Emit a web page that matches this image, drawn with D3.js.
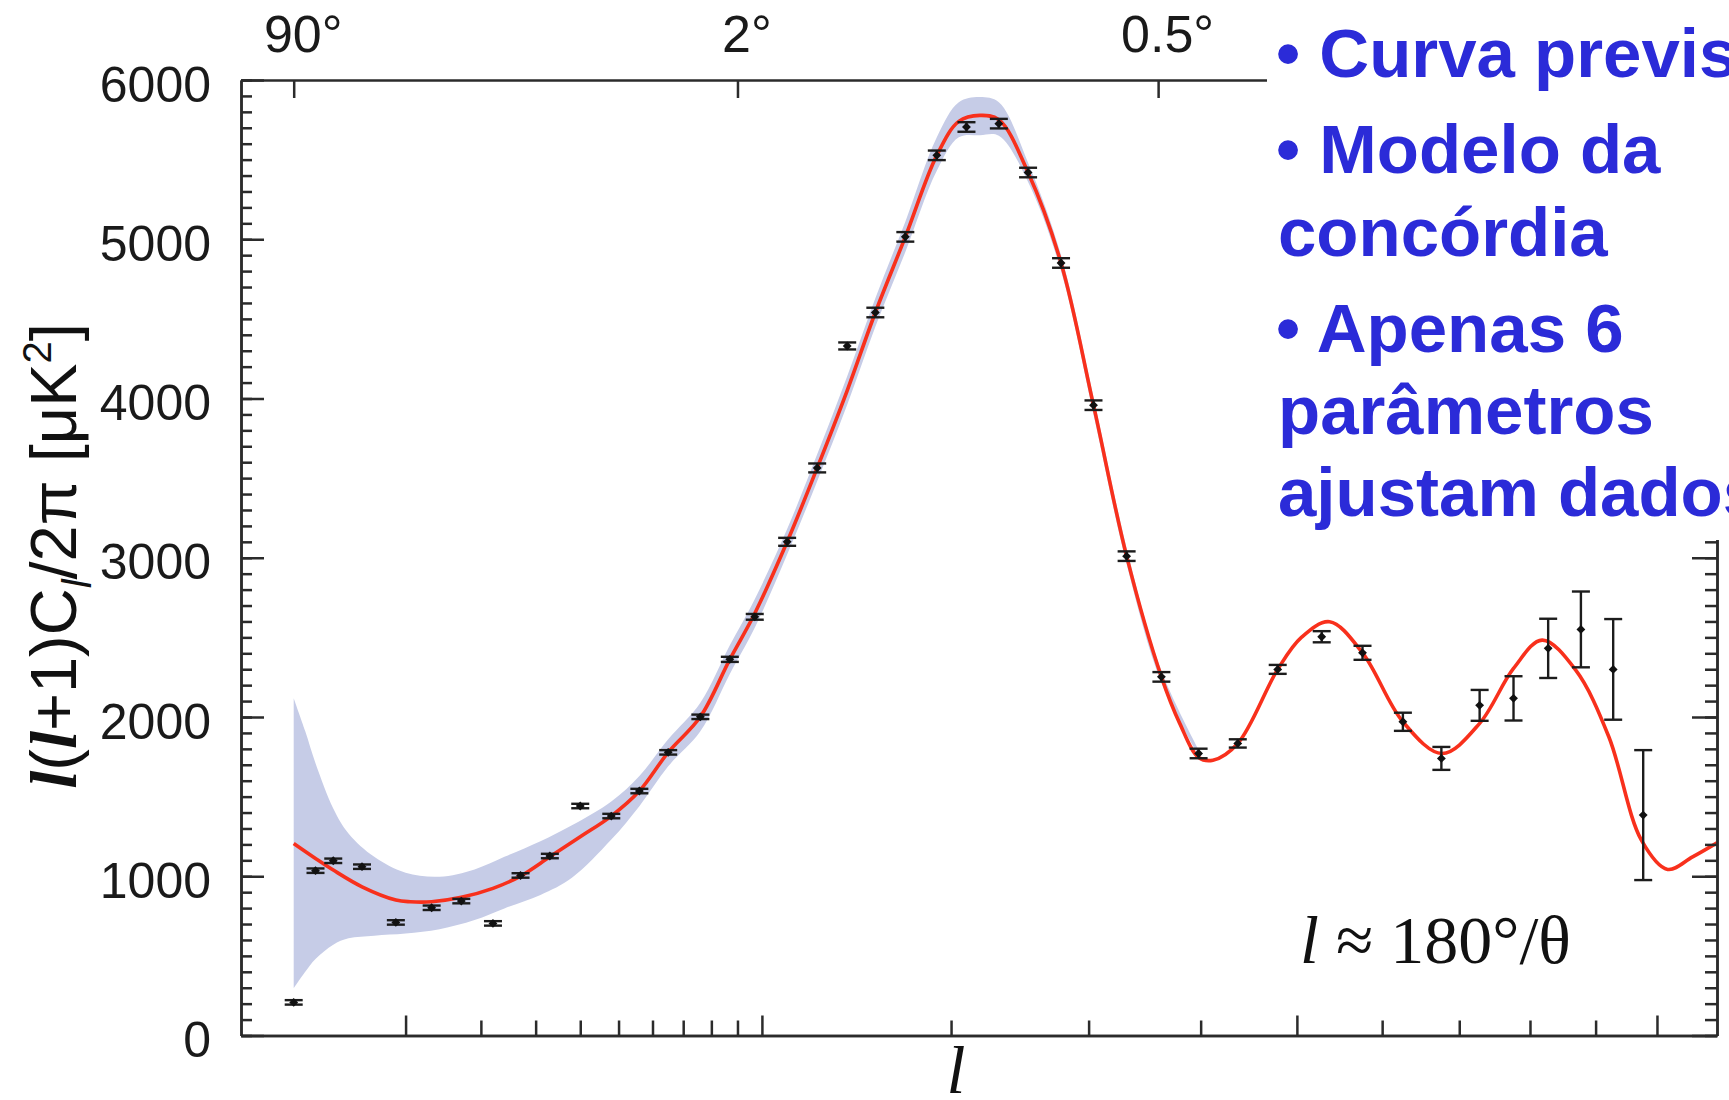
<!DOCTYPE html>
<html>
<head>
<meta charset="utf-8">
<script src="https://cdn.jsdelivr.net/npm/d3@7"></script>
<style>
  body { margin: 0; background: #fff; }
  svg { display: block; }
  .axis path, .axis line { stroke: #2b2b2b; stroke-width: 2.5px; }
  .axis text { font-family: "Liberation Sans", Arial, sans-serif; font-size: 50px; fill: #1a1a1a; }
  .note { font-family: "Liberation Sans", Arial, sans-serif; font-weight: bold; font-size: 69px; fill: #2b2bd8; }
  .serif { font-family: "Liberation Serif", "Times New Roman", serif; fill: #111; }
</style>
</head>
<body>
<svg id="chart" width="1729" height="1100"></svg>
<script>
// measured band powers (multipole, D_l in uK^2, error)
const obsL   = [2, 3, 4, 6, 9, 13, 17, 22, 27, 33, 40, 48, 56, 65, 76, 87, 97,
                111, 125, 140, 155, 172, 191, 210, 232, 253, 278, 304, 332,
                363, 398, 437, 479, 528, 576, 626, 676, 728, 776, 827, 877, 928, 977];
const obsD   = [208, 1035, 1097, 1060, 710, 802, 844, 704, 1005, 1127, 1441, 1378, 1535, 1778, 2001, 2362, 2629,
                3100, 3564, 4330, 4540, 5015, 5527, 5705, 5726, 5419, 4851, 3958, 3010,
                2252, 1771, 1834, 2299, 2504, 2403, 1970, 1740, 2073, 2117, 2431, 2550, 2299, 1384];
const obsErr = [14, 14, 14, 14, 14, 14, 14, 14, 14, 14, 14, 14, 14, 14, 14, 16, 18,
                25, 28, 22, 30, 30, 30, 30, 30, 30, 30, 30, 30,
                30, 30, 26, 28, 35, 44, 57, 72, 97, 139, 186, 238, 316, 408];

// best-fit model curve
const modelL = [2, 3, 4, 6, 9, 10.5, 13, 17, 22, 27, 33, 40, 48, 56, 65, 76, 87, 97,
                111, 125, 140, 155, 172, 191, 205, 219, 232, 253, 278, 304, 332, 363, 380, 398, 412,
                437, 479, 505, 537, 576, 626, 677, 728, 776, 818, 869, 921, 974, 1018, 1061, 1104];
const modelD = [1206, 1112, 1039, 934, 851, 840, 840, 868, 924, 1001, 1122, 1248, 1378, 1535, 1778, 2001, 2362, 2650,
                3100, 3564, 4050, 4540, 5015, 5527, 5740, 5778, 5751, 5419, 4851, 3958, 3010, 2252, 1960, 1746, 1729,
                1834, 2299, 2500, 2598, 2403, 1970, 1771, 1960, 2305, 2483, 2294, 1876, 1227, 1043, 1122, 1210];

// cosmic variance band
const bandL  = [2, 2.5, 3, 4, 5, 7, 10, 14, 19, 24, 31, 38, 48, 56, 65, 76, 87, 97,
                111, 125, 140, 155, 172, 191, 205, 219, 232, 253, 278, 304, 332, 363, 400];
const bandHi = [2117, 1910, 1710, 1426, 1269, 1122, 1022, 997, 1043, 1122, 1220, 1320, 1470, 1630, 1860, 2090, 2450, 2740,
                3180, 3650, 4140, 4630, 5110, 5640, 5860, 5893, 5860, 5480, 4900, 4010, 3060, 2290, 1770];
const bandLo = [296, 400, 480, 570, 610, 627, 640, 667, 725, 798, 882, 990, 1230, 1440, 1690, 1910, 2270, 2560,
                3020, 3480, 3960, 4450, 4920, 5430, 5640, 5653, 5650, 5360, 4800, 3900, 2960, 2215, 1735];

// ticks
const yMajor = [0, 1000, 2000, 3000, 4000, 5000, 6000];
const yMinor = d3.range(0, 6001, 100);
const xMajor = [10, 100, 500, 1000];
const xMinor = [20, 30, 40, 50, 60, 70, 80, 90, 200, 300, 400, 600, 700, 800, 900];
const topTicks = [2, 90, 360];
const topLabels = ['90°', '2°', '0.5°'];

// side notes
const noteLines = ['• Curva prevista', '• Modelo da', 'concórdia', '• Apenas 6', 'parâmetros', 'ajustam dados'];
const noteY = [77, 173, 256, 352, 434, 516];

const mLeft = 241, mRight = 1717, mTop = 80, mBottom = 1035.5;
const svg = d3.select('#chart');

const x = d3.scalePow().exponent(0.4).domain([0.5, 1104]).range([mLeft, mRight]);
const y = d3.scaleLinear().domain([0, 6000]).range([mBottom, mTop]);

svg.append('rect').attr('width', 1729).attr('height', 1100).attr('fill', '#fff');

svg.append('defs').append('clipPath').attr('id', 'plot')
  .append('rect').attr('x', mLeft).attr('y', mTop).attr('width', mRight - mLeft).attr('height', mBottom - mTop);

// band
const area = d3.area()
  .x(d => x(d[0])).y0(d => y(d[1])).y1(d => y(d[2]))
  .curve(d3.curveCatmullRom);
svg.append('path')
  .datum(bandL.map((l, i) => [l, bandLo[i], bandHi[i]]))
  .attr('d', area)
  .attr('fill', '#c6cce7')
  .attr('clip-path', 'url(#plot)');

// model
const line = d3.line().x(d => x(d[0])).y(d => y(d[1])).curve(d3.curveCatmullRom);
svg.append('path')
  .datum(modelL.map((l, i) => [l, modelD[i]]))
  .attr('d', line)
  .attr('fill', 'none')
  .attr('stroke', '#f8301c')
  .attr('stroke-width', 3.6)
  .attr('clip-path', 'url(#plot)');

// data points with error bars
const pts = obsL.map((l, i) => ({ l: l, d: obsD[i], e: obsErr[i] }));
const g = svg.append('g').attr('stroke', '#1c1c1c').attr('stroke-width', 2.4);
const eb = g.selectAll('g.pt').data(pts).enter().append('g').attr('class', 'pt');
eb.append('line')
  .attr('x1', d => x(d.l)).attr('x2', d => x(d.l))
  .attr('y1', d => y(d.d - d.e)).attr('y2', d => y(d.d + d.e));
eb.append('line')
  .attr('x1', d => x(d.l) - 9).attr('x2', d => x(d.l) + 9)
  .attr('y1', d => y(d.d - d.e)).attr('y2', d => y(d.d - d.e));
eb.append('line')
  .attr('x1', d => x(d.l) - 9).attr('x2', d => x(d.l) + 9)
  .attr('y1', d => y(d.d + d.e)).attr('y2', d => y(d.d + d.e));
eb.append('path')
  .attr('d', d3.symbol(d3.symbolDiamond2, 50))
  .attr('transform', d => `translate(${x(d.l)},${y(d.d)})`)
  .attr('fill', '#111').attr('stroke', 'none');

// axes
svg.append('g').attr('class', 'axis').attr('transform', `translate(${mLeft},0)`)
  .call(d3.axisLeft(y).tickValues(yMinor).tickSize(-11).tickSizeOuter(0).tickFormat(''));
svg.append('g').attr('class', 'axis').attr('transform', `translate(${mLeft},0)`)
  .call(d3.axisLeft(y).tickValues(yMajor).tickSize(-23).tickSizeOuter(0).tickPadding(30)
    .tickFormat(d3.format('d')))
  .selectAll('text').attr('dy', '0.42em');
svg.append('g').attr('class', 'axis').attr('transform', `translate(${mRight},0)`)
  .call(d3.axisRight(y).tickValues(yMinor).tickSize(-12).tickSizeOuter(0).tickFormat(''));
svg.append('g').attr('class', 'axis').attr('transform', `translate(${mRight},0)`)
  .call(d3.axisRight(y).tickValues(yMajor).tickSize(-25).tickSizeOuter(0).tickFormat(''));
svg.append('g').attr('class', 'axis').attr('transform', `translate(0,${mBottom})`)
  .call(d3.axisBottom(x).tickValues(xMinor).tickSize(-15).tickSizeOuter(0).tickFormat(''));
svg.append('g').attr('class', 'axis').attr('transform', `translate(0,${mBottom})`)
  .call(d3.axisBottom(x).tickValues(xMajor).tickSize(-20).tickSizeOuter(0).tickFormat(''));
svg.append('g').attr('class', 'axis').attr('transform', `translate(0,${mTop})`)
  .call(d3.axisTop(x).tickValues(topTicks).tickSize(-18).tickSizeOuter(0).tickPadding(28)
    .tickFormat((d, i) => topLabels[i]))
  .selectAll('text').attr('dx', 9).style('font-size', '52px');

// white panel behind the notes
svg.append('rect').attr('x', 1267).attr('y', 0).attr('width', 462).attr('height', 540).attr('fill', '#fff');

svg.append('g').selectAll('text').data(noteLines).enter().append('text')
  .attr('class', 'note')
  .attr('x', d => d.startsWith('•') ? 1276 : 1278)
  .attr('y', (d, i) => noteY[i])
  .text(d => d);

// formula
const f = svg.append('text').attr('class', 'serif').attr('x', 1300).attr('y', 963).style('font-size', '68px');
f.append('tspan').attr('font-style', 'italic').text('l');
f.append('tspan').text(' ≈ 180°/θ');

// x label
svg.append('text').attr('class', 'serif').attr('x', 956).attr('y', 1093)
  .attr('text-anchor', 'middle').attr('font-style', 'italic').style('font-size', '68px').text('l');

// y label
const yl = svg.append('text').attr('transform', 'translate(76,556) rotate(-90)')
  .attr('text-anchor', 'middle').attr('fill', '#111')
  .style('font-family', '"Liberation Sans", Arial, sans-serif').style('font-size', '65px');
const ell = sel => sel.attr('font-family', '"Liberation Serif", serif').attr('font-style', 'italic').attr('font-weight', 'bold');
yl.append('tspan').call(ell).text('l');
yl.append('tspan').text('(');
yl.append('tspan').call(ell).text('l');
yl.append('tspan').text('+1)C');
yl.append('tspan').attr('dy', 15).attr('font-size', '40px').attr('font-style', 'italic').text('l');
yl.append('tspan').attr('dy', -15).text('/2π [μK');
yl.append('tspan').attr('dy', -25).attr('font-size', '40px').text('2');
yl.append('tspan').attr('dy', 25).text(']');
</script>
</body>
</html>
